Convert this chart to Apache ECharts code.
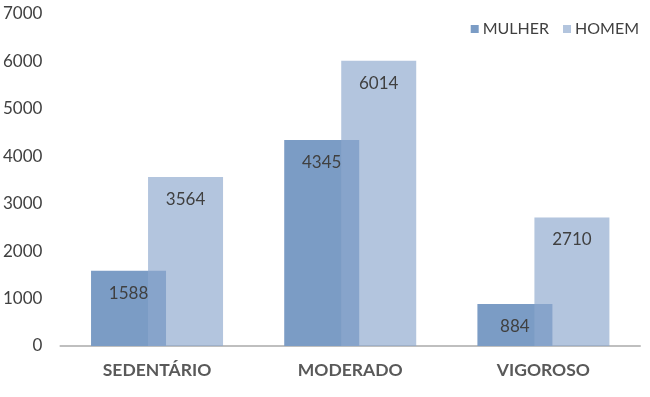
<!DOCTYPE html>
<html><head><meta charset="utf-8">
<script src="https://cdn.jsdelivr.net/npm/echarts@6/dist/echarts.min.js"></script>
<style>html,body{margin:0;padding:0;background:#fff}#c{width:650px;height:397px}</style>
</head><body><div id="c"></div>
<script>
var categories = ['SEDENTÁRIO', 'MODERADO', 'VIGOROSO'];
var mulher = [1588, 4345, 884];
var homem = [3564, 6014, 2710];
var yTicks = [0, 1000, 2000, 3000, 4000, 5000, 6000, 7000];

var chart = echarts.init(document.getElementById('c'));
var font = 'Lato, "Open Sans", sans-serif';
var lbl = {show: true, position: 'insideTop', distance: 14, color: '#404040', fontSize: 17, fontFamily: font};
chart.setOption({
  animation: false,
  grid: {left: 60, right: 10, top: 14, bottom: 51},
  legend: {
    right: 6, top: 16, itemWidth: 8, itemHeight: 8, itemGap: 14,
    icon: 'rect',
    textStyle: {color: '#404040', fontSize: 16, fontFamily: font, padding: [0, 0, 0, -1]},
    data: ['MULHER', 'HOMEM']
  },
  xAxis: {
    type: 'category', data: categories,
    axisLine: {lineStyle: {color: '#bfbfbf', width: 2}},
    axisTick: {show: false},
    axisLabel: {color: '#595959', fontWeight: 'bold', fontSize: 17.5, fontFamily: font, margin: 15}
  },
  yAxis: {
    type: 'value', min: yTicks[0], max: yTicks[yTicks.length - 1], interval: 1000,
    axisLine: {show: false}, axisTick: {show: false}, splitLine: {show: false},
    axisLabel: {color: '#404040', fontSize: 17, fontFamily: font, margin: 18,
      formatter: function (v) { return String(v); }}
  },
  series: [
    {name: 'MULHER', type: 'bar', data: mulher, barWidth: 75, barGap: '-24%', barCategoryGap: '31.6%',
     itemStyle: {color: '#7b9cc5'}, label: lbl},
    {name: 'HOMEM', type: 'bar', data: homem, barWidth: 75,
     itemStyle: {color: 'rgba(142,169,206,0.67)'}, label: lbl}
  ]
});
</script></body></html>
